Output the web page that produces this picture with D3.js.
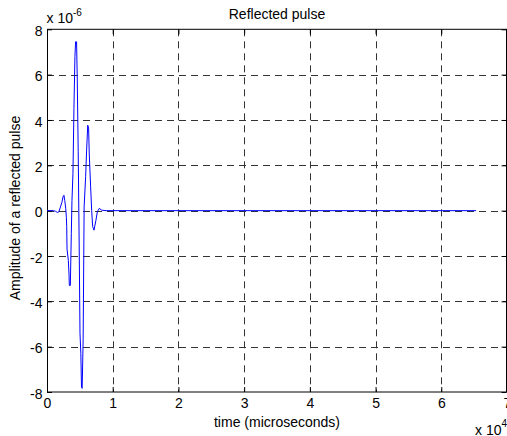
<!DOCTYPE html>
<html>
<head>
<meta charset="utf-8">
<script src="https://cdn.jsdelivr.net/npm/d3@7"></script>
<style>
  html, body { margin: 0; padding: 0; background: #fff; overflow: hidden; }
  svg { display: block; font-family: "Liberation Sans", Arial, sans-serif; }
</style>
</head>
<body>
<svg id="chart" width="507" height="436"></svg>
<script>
// time in microseconds
const timeUs = [0, 1000, 1300, 1600, 1800, 2000, 2250, 2450, 2580, 2700, 2850, 2950, 3000, 3050, 3250, 3350, 3400, 3550,
  3700, 3800, 3950, 4100, 4250, 4350, 4500, 4600, 4750, 4900, 5020, 5150, 5250, 5350, 5500, 5650, 5880, 6030, 6200,
  6330, 6430, 6640, 6800, 6950, 7150, 7450, 7660, 7960, 8330, 9000, 65300];
// amplitude in units of 1e-6
const amplitude = [0, 0, -0.03, -0.08, -0.05, 0.12, 0.35, 0.62, 0.68, 0.45, 0.1, -0.3, -0.7, -1.7, -2.2, -2.8, -3.3, -3.3,
  -1.0, 0.45, 1.65, 4.5, 6.8, 7.45, 7.45, 5.9, 2.6, -1.6, -5.4, -6.3, -7.8, -7.84, -5.7, 0.17, 1.5, 2.67, 3.77,
  3.64, 2.5, 1.05, 0, -0.7, -0.86, -0.42, -0.05, 0.1, 0.02, 0, 0];
const xTickValues = [0, 10000, 20000, 30000, 40000, 50000, 60000, 70000];
const yTickValues = [-8, -6, -4, -2, 0, 2, 4, 6, 8];
const titleText = "Reflected pulse";
const xLabelText = "time (microseconds)";
const yLabelText = "Amplitude of a reflected pulse";

const FS = 14;
const pLeft = 47, pRight = 507, pTop = 29.3, pBottom = 392;
const svg = d3.select("#chart");
const x = d3.scaleLinear().domain([0, 70000]).range([pLeft, pRight]);
const y = d3.scaleLinear().domain([-8, 8]).range([pBottom, pTop]);

const grid = svg.append("g");
grid.selectAll("line.vx").data(xTickValues.slice(1, -1)).enter().append("line")
  .attr("x1", d => Math.round(x(d)) + 0.5).attr("x2", d => Math.round(x(d)) + 0.5)
  .attr("y1", pTop).attr("y2", pBottom)
  .attr("stroke", "#333").attr("stroke-width", 1).attr("stroke-dasharray", "7,5");
grid.selectAll("line.hy").data(yTickValues.slice(1, -1)).enter().append("line")
  .attr("y1", d => Math.round(y(d)) + 0.5).attr("y2", d => Math.round(y(d)) + 0.5)
  .attr("x1", pLeft).attr("x2", pRight)
  .attr("stroke", "#333").attr("stroke-width", 1).attr("stroke-dasharray", "7,5");

const fmtX = d => d3.format("d")(d / 10000);
const fmtY = d => (d < 0 ? "-" : "") + Math.abs(d);
const axStyle = g => {
  g.select(".domain").remove();
  g.selectAll("text").attr("font-size", FS).attr("fill", "#000").attr("font-family", "Liberation Sans, Arial, sans-serif");
  g.selectAll("line").attr("stroke", "#000");
};
svg.append("g").attr("transform", `translate(0,${pBottom})`)
  .call(d3.axisBottom(x).tickValues(xTickValues).tickFormat(fmtX).tickSizeInner(-5).tickSizeOuter(0).tickPadding(6))
  .call(axStyle);
svg.append("g").attr("transform", `translate(0,${pTop})`)
  .call(d3.axisTop(x).tickValues(xTickValues).tickFormat("").tickSizeInner(-5).tickSizeOuter(0))
  .call(axStyle);
const yAx = svg.append("g").attr("transform", `translate(${pLeft},0)`)
  .call(d3.axisLeft(y).tickValues(yTickValues).tickFormat(fmtY).tickSizeInner(-5).tickSizeOuter(0).tickPadding(4.5))
  .call(axStyle);
yAx.selectAll("text").attr("dy", "0.45em");
svg.append("g").attr("transform", `translate(${pRight - 0.5},0)`)
  .call(d3.axisRight(y).tickValues(yTickValues).tickFormat("").tickSizeInner(-5).tickSizeOuter(0))
  .call(axStyle);

svg.append("rect").attr("x", pLeft + 0.5).attr("y", pTop).attr("width", pRight - pLeft - 1).attr("height", pBottom - pTop)
  .attr("fill", "none").attr("stroke", "#000").attr("stroke-width", 1);

const pts = timeUs.map((t, i) => [t, amplitude[i]]);
svg.append("path").datum(pts)
  .attr("fill", "none").attr("stroke", "#0000ff").attr("stroke-width", 1)
  .attr("d", d3.line().x(d => x(d[0])).y(d => y(d[1])));

svg.append("text").attr("x", (pLeft + pRight) / 2).attr("y", 19).attr("text-anchor", "middle")
  .attr("font-size", FS).text(titleText);
svg.append("text").attr("x", (pLeft + pRight) / 2).attr("y", 427).attr("text-anchor", "middle")
  .attr("font-size", FS).text(xLabelText);
svg.append("text").attr("transform", `translate(20,208) rotate(-90)`).attr("text-anchor", "middle")
  .attr("font-size", FS).text(yLabelText);

const e1 = svg.append("text").attr("x", 46.5).attr("y", 22.7).attr("font-size", FS);
e1.append("tspan").text("x 10");
e1.append("tspan").attr("dy", -6.5).attr("font-size", 10).text("-6");
const e2 = svg.append("text").attr("x", 475).attr("y", 434.5).attr("font-size", FS);
e2.append("tspan").text("x 10");
e2.append("tspan").attr("dy", -8).attr("font-size", 10).text("4");
</script>
</body>
</html>
